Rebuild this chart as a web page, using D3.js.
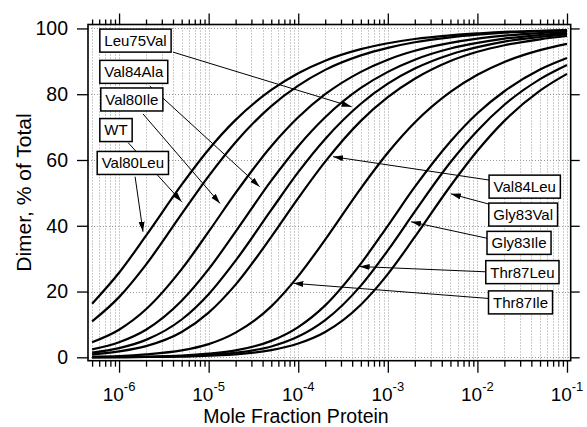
<!DOCTYPE html>
<html>
<head>
<meta charset="utf-8">
<script src="https://cdn.jsdelivr.net/npm/d3@7"></script>
<style>
  html, body { margin: 0; padding: 0; background: #fff; }
  svg { display: block; font-family: "Liberation Sans", Arial, Helvetica, sans-serif; }
</style>
</head>
<body>
<svg id="chart" width="587" height="427"></svg>
<script>
// mole fraction protein (x) shared by every curve
const conc = [5e-7, 1e-6, 2e-6, 5e-6, 1e-5, 2e-5, 5e-5, 1e-4, 2e-4, 5e-4, 1e-3, 2e-3, 5e-3, 1e-2, 2e-2, 5e-2, 1e-1];

// dimer, % of total
const val80Leu = [16.3, 25.7, 37.0, 52.5, 63.2, 72.2, 81.3, 86.4, 90.2, 93.7, 95.5, 96.8, 97.9, 98.5, 99.0, 99.3, 99.5];
const wt       = [10.9, 18.3, 28.2, 43.6, 55.1, 65.4, 76.4, 82.6, 87.4, 91.8, 94.1, 95.8, 97.3, 98.1, 98.7, 99.2, 99.4];
const val80Ile = [4.6, 8.4, 14.6, 26.8, 38.2, 50.0, 64.2, 73.0, 80.0, 86.8, 90.5, 93.2, 95.6, 96.9, 97.8, 98.6, 99.0];
const val84Ala = [2.4, 4.6, 8.4, 17.2, 26.8, 38.2, 53.7, 64.2, 73.0, 81.9, 86.8, 90.5, 93.9, 95.6, 96.9, 98.0, 98.6];
const leu75Val = [1.4, 2.8, 5.3, 11.5, 19.2, 29.4, 44.8, 56.3, 66.4, 77.1, 83.2, 87.8, 92.1, 94.3, 96.0, 97.4, 98.2];
const val84Leu = [0.9, 1.8, 3.4, 7.7, 13.6, 22.1, 36.6, 48.4, 59.5, 71.9, 79.1, 84.7, 90.1, 92.9, 94.9, 96.7, 97.7];
const thr87Ile = [0.2, 0.4, 0.9, 2.1, 4.0, 7.5, 15.5, 24.7, 35.8, 51.4, 62.2, 71.4, 80.7, 85.9, 89.8, 93.4, 95.3];
const thr87Leu = [0.1, 0.1, 0.2, 0.5, 1.1, 2.1, 5.0, 9.2, 15.8, 28.5, 40.0, 51.8, 65.6, 74.2, 80.9, 87.5, 91.0];
const gly83Ile = [0.0, 0.1, 0.1, 0.4, 0.7, 1.4, 3.3, 6.3, 11.3, 21.8, 32.5, 44.3, 59.3, 68.9, 76.8, 84.6, 88.9];
const gly83Val = [0.0, 0.0, 0.1, 0.2, 0.5, 0.9, 2.2, 4.2, 7.7, 16.0, 25.3, 36.6, 52.1, 62.8, 71.9, 81.1, 86.2];

const series = [val80Leu, wt, val80Ile, val84Ala, leu75Val, val84Leu, thr87Ile, thr87Leu, gly83Ile, gly83Val];

// axis ticks
const xMajor = [1e-6, 1e-5, 1e-4, 1e-3, 1e-2, 1e-1];
const xMajorExp = ["-6", "-5", "-4", "-3", "-2", "-1"];
const yTicks = [0, 20, 40, 60, 80, 100];

// annotation labels, box anchor and arrow ends (data units)
const labels     = ["Leu75Val", "Val84Ala", "Val80Ile", "WT", "Val80Leu", "Val84Leu", "Gly83Val", "Gly83Ile", "Thr87Leu", "Thr87Ile"];
const boxX       = [6.1e-7, 6.1e-7, 6.25e-7, 6.1e-7, 5.7e-7, 1.35e-2, 1.34e-2, 1.28e-2, 1.24e-2, 1.33e-2];
const boxY       = [96.3, 86.8, 78.4, 69.1, 59.1, 51.9, 43.4, 34.8, 25.9, 16.7];
const arrowFromX = [4.0e-6, 2.2e-6, 1.85e-6, 1.26e-6, 1.51e-6, 1.35e-2, 1.34e-2, 1.28e-2, 1.24e-2, 1.33e-2];
const arrowFromY = [92.8, 82.5, 74.0, 65.3, 54.9, 53.9, 46.6, 36.2, 26.0, 17.9];
const arrowToX   = [3.94e-4, 3.71e-5, 1.34e-5, 5.0e-6, 1.85e-6, 2.45e-4, 5.05e-3, 1.82e-3, 4.84e-4, 8.83e-5];
const arrowToY   = [76.2, 51.9, 46.8, 47.3, 38.2, 61.0, 49.7, 41.2, 27.6, 22.5];

const plot = {left: 88, right: 570.7, top: 24.5, bottom: 360.7};

const svg = d3.select('#chart');
svg.append('rect').attr('width', 587).attr('height', 427).attr('fill', '#fff');

const x = d3.scaleLog().domain([4.5e-7, 0.11]).range([plot.left, plot.right]);
const y = d3.scaleLinear().domain([-1.03, 101.2]).range([plot.bottom, plot.top]);

// minor ticks 1..9 x decade inside the domain
const xMinor = d3.range(-7, 0).flatMap(d => d3.range(2, 10).map(m => m * Math.pow(10, d)))
                 .filter(v => v >= x.domain()[0] && v <= x.domain()[1]);
const xAll = xMinor.concat(xMajor);

// grid
const grid = svg.append('g').attr('stroke', '#9a9a9a').attr('stroke-width', 1).attr('stroke-dasharray', '1,2');
grid.selectAll('line.v').data(xAll).join('line').attr('class', 'v')
    .attr('x1', d => Math.round(x(d)) + 0.5).attr('x2', d => Math.round(x(d)) + 0.5)
    .attr('y1', plot.top).attr('y2', plot.bottom);
grid.selectAll('line.h').data(yTicks).join('line').attr('class', 'h')
    .attr('x1', plot.left).attr('x2', plot.right)
    .attr('y1', d => Math.round(y(d)) + 0.5).attr('y2', d => Math.round(y(d)) + 0.5);

// curves
const line = d3.line()
  .x((d, i) => x(conc[i]))
  .y(d => y(d))
  .curve(d3.curveMonotoneX);

svg.append('g').selectAll('path').data(series).join('path')
   .attr('d', line)
   .attr('fill', 'none')
   .attr('stroke', '#000')
   .attr('stroke-width', 2.2);

// arrows
svg.append('defs').append('marker')
   .attr('id', 'head').attr('markerUnits', 'userSpaceOnUse')
   .attr('markerWidth', 11).attr('markerHeight', 7)
   .attr('refX', 10).attr('refY', 3)
   .attr('orient', 'auto')
   .append('path').attr('d', 'M0,0 L10,3 L0,6 Z').attr('fill', '#000');

svg.append('g').selectAll('line').data(labels).join('line')
   .attr('x1', (d, i) => x(arrowFromX[i])).attr('y1', (d, i) => y(arrowFromY[i]))
   .attr('x2', (d, i) => x(arrowToX[i])).attr('y2', (d, i) => y(arrowToY[i]))
   .attr('stroke', '#000').attr('stroke-width', 1)
   .attr('marker-end', 'url(#head)');

// label boxes
const boxes = svg.append('g').selectAll('g').data(labels).join('g')
   .attr('transform', (d, i) => `translate(${x(boxX[i])},${y(boxY[i])})`);
const rects = boxes.append('rect');
const texts = boxes.append('text')
   .attr('x', 4.5).attr('dy', '0.36em')
   .attr('font-size', 15).text(d => d);
texts.each(function (d, i) {
  const w = this.getComputedTextLength();
  d3.select(rects.nodes()[i])
    .attr('x', 0).attr('y', -11.5).attr('width', w + 9).attr('height', 23)
    .attr('fill', '#fff').attr('stroke', '#000').attr('stroke-width', 1.5);
});

// axes
const noDomain = g => g.select('.domain').remove();

svg.append('g').attr('transform', `translate(0,${plot.bottom})`)
   .call(d3.axisBottom(x).tickValues(xMajor).tickSize(12).tickFormat(''))
   .call(noDomain);
svg.append('g').attr('transform', `translate(0,${plot.bottom})`)
   .call(d3.axisBottom(x).tickValues(xMinor).tickSize(6).tickFormat(''))
   .call(noDomain);
svg.append('g').attr('transform', `translate(0,${plot.top})`)
   .call(d3.axisTop(x).tickValues(xMajor).tickSize(11).tickFormat(''))
   .call(noDomain);
svg.append('g').attr('transform', `translate(0,${plot.top})`)
   .call(d3.axisTop(x).tickValues(xMinor).tickSize(5).tickFormat(''))
   .call(noDomain);
svg.append('g').attr('transform', `translate(${plot.left},0)`)
   .call(d3.axisLeft(y).tickValues(yTicks).tickSize(11).tickPadding(9))
   .call(noDomain)
   .call(g => g.selectAll('text').attr('font-size', 19.5).attr('font-family', null).attr('fill', '#000'));
svg.append('g').attr('transform', `translate(${plot.right},0)`)
   .call(d3.axisRight(y).tickValues(yTicks).tickSize(9).tickFormat(''))
   .call(noDomain);

svg.selectAll('.tick line').attr('stroke', '#000').attr('stroke-width', 1.3);

// x tick labels, 10 with superscript exponent
const xl = svg.append('g').selectAll('text').data(xMajor).join('text')
   .attr('x', d => x(d)).attr('y', 400.5)
   .attr('text-anchor', 'middle').attr('font-size', 19);
xl.append('tspan').text('10');
xl.append('tspan').attr('dy', -9.5).attr('font-size', 13).text((d, i) => xMajorExp[i]);

// frame
svg.append('rect')
   .attr('x', plot.left).attr('y', plot.top)
   .attr('width', plot.right - plot.left).attr('height', plot.bottom - plot.top)
   .attr('fill', 'none').attr('stroke', '#000').attr('stroke-width', 1.6);

// axis titles
svg.append('text').attr('x', 296).attr('y', 422.5).attr('text-anchor', 'middle')
   .attr('font-size', 19.5).text('Mole Fraction Protein');
svg.append('text').attr('transform', `translate(31,${(plot.top + plot.bottom) / 2}) rotate(-90)`)
   .attr('text-anchor', 'middle').attr('font-size', 21).text('Dimer, % of Total');
</script>
</body>
</html>
